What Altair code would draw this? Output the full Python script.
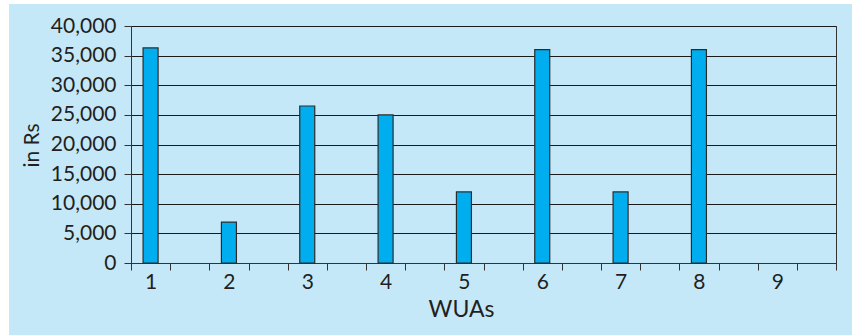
import json
import altair as alt
import pandas as pd

# Amount spent by each Water Users' Association (WUA), in rupees
wuas = ["1", "2", "3", "4", "5", "6", "7", "8", "9"]
amounts = [36300, 6900, 26500, 25000, 12000, 36000, 12000, 36000, 0]
y_ticks = [0, 5000, 10000, 15000, 20000, 25000, 30000, 35000, 40000]

BG = "#C5E8F9"
BAR = "#00AEEF"
INK = "#231F20"
FONT = "Lato"

# each WUA owns two slots on the axis; the bar sits in the first one
df = pd.DataFrame({
    "wua": wuas,
    "amount": amounts,
    "slot": [2 * i + 0.5 for i in range(len(wuas))],
})

n_slots = 2 * len(wuas)
x_values = [i / 2 for i in range(2 * n_slots + 1)]
label_expr = (
    f"datum.value % 2 === 0.5 ? {json.dumps(wuas)}[(datum.value - 0.5) / 2] : ''"
)

x_scale = alt.Scale(domain=[0, n_slots], nice=False, zero=False, padding=0)
y_scale = alt.Scale(domain=[0, 40000], nice=False, padding=0)

bars = alt.Chart(df).transform_filter(
    "datum.amount > 0"
).mark_bar(
    size=15, fill=BAR, stroke="#2b2b2b", strokeWidth=1.2
).encode(
    x=alt.X(
        "slot:Q",
        scale=x_scale,
        axis=alt.Axis(
            values=x_values,
            labelExpr=label_expr,
            tickOpacity={"condition": {"test": "datum.value % 1 === 0", "value": 1}, "value": 0},
            grid=False,
            tickSize=7,
            tickColor="#333333",
            domainColor="#333333",
            labelPadding=18,
            labelBaseline="alphabetic",
            labelFontSize=21,
            labelFont=FONT,
            labelColor=INK,
            labelFlush=False,
            labelOverlap=False,
            title="WUAs",
            titleFont=FONT,
            titleFontSize=23,
            titleFontWeight="normal",
            titleColor=INK,
            titleX=330,
            titleY=53,
            titleBaseline="alphabetic",
        ),
    ),
    y=alt.Y(
        "amount:Q",
        scale=y_scale,
        axis=alt.Axis(
            values=y_ticks,
            format=",.0f",
            grid=True,
            gridColor="#1a1a1a",
            gridWidth=1,
            tickSize=7,
            tickColor="#333333",
            domainColor="#333333",
            labelPadding=8,
            labelFontSize=21,
            labelFont=FONT,
            labelColor=INK,
            title="in Rs",
            titleFont=FONT,
            titleFontSize=21,
            titleFontWeight="normal",
            titleColor=INK,
            titleAngle=-90,
            titleX=-93,
            titleY=119,
            titleBaseline="alphabetic",
        ),
    ),
)

# thin white margin around the light-blue panel
one = alt.Data(values=[{}])
margin_left = alt.Chart(one).mark_rect(fill="white").encode(
    x=alt.value(-131), x2=alt.value(-122), y=alt.value(-26), y2=alt.value(309)
)
margin_top = alt.Chart(one).mark_rect(fill="white").encode(
    x=alt.value(-131), x2=alt.value(723), y=alt.value(-26), y2=alt.value(-22)
)
margin_right = alt.Chart(one).mark_rect(fill="white").encode(
    x=alt.value(721), x2=alt.value(723), y=alt.value(-26), y2=alt.value(309)
)

chart = alt.layer(bars, margin_left, margin_top, margin_right).properties(
    width=705,
    height=237,
    background=BG,
    autosize=alt.AutoSizeParams(type="none"),
    padding={"left": 131, "top": 26, "right": 18, "bottom": 72},
).configure_view(
    stroke="#333333", strokeWidth=1
)

chart.save("out.html", embed_options={"renderer": "svg", "actions": False})
